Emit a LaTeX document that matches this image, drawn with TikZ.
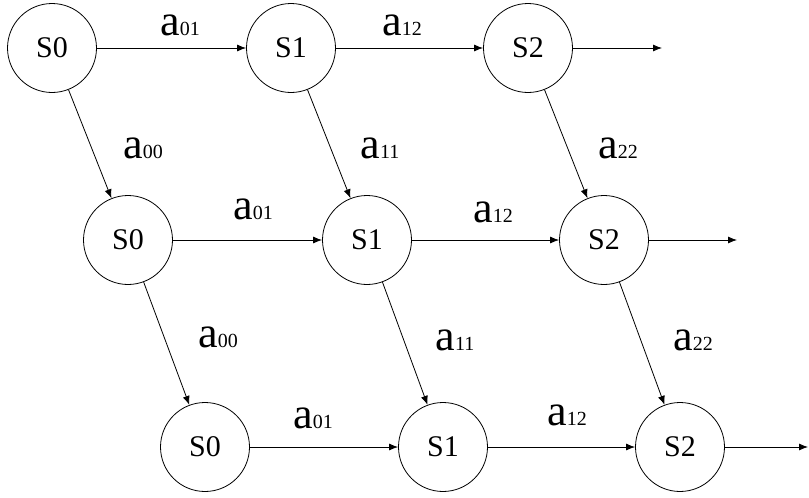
\documentclass[tikz,border=0pt]{standalone}
\usepackage{fontspec}
\setmainfont{Liberation Serif}
\usetikzlibrary{arrows.meta}
\newcommand{\trprob}[1]{{\fontsize{44}{44}\selectfont a}{\fontsize{20}{20}\selectfont #1}}
\tikzset{
  state/.style={draw, circle, line width=0.8pt, minimum size=89pt, inner sep=0pt, font=\fontsize{30}{30}\selectfont},
  arrow/.style={-{Latex[length=9pt,width=7pt]}, line width=0.8pt},
  prob/.style={inner sep=0pt},
}
\begin{document}
\begin{tikzpicture}[x=1pt,y=-1pt]
\useasboundingbox (0,0) rectangle (809,498);
% states, one row per time step
\node[state] (r1s0) at (52,48) {S0};
\node[state] (r1s1) at (291,48) {S1};
\node[state] (r1s2) at (528,48) {S2};
\node[state] (r2s0) at (128,240) {S0};
\node[state] (r2s1) at (367,240) {S1};
\node[state] (r2s2) at (604,240) {S2};
\node[state] (r3s0) at (205,447) {S0};
\node[state] (r3s1) at (443,447) {S1};
\node[state] (r3s2) at (680,447) {S2};
\coordinate (r1out) at (662,48);
\coordinate (r2out) at (737,240);
\coordinate (r3out) at (808,447);
% transitions
\draw[arrow] (r1s0) -- (r1s1); \draw[arrow] (r1s1) -- (r1s2); \draw[arrow] (r1s2) -- (r1out);
\draw[arrow] (r2s0) -- (r2s1); \draw[arrow] (r2s1) -- (r2s2); \draw[arrow] (r2s2) -- (r2out);
\draw[arrow] (r3s0) -- (r3s1); \draw[arrow] (r3s1) -- (r3s2); \draw[arrow] (r3s2) -- (r3out);
\draw[arrow] (r1s0) -- (r2s0); \draw[arrow] (r1s1) -- (r2s1); \draw[arrow] (r1s2) -- (r2s2);
\draw[arrow] (r2s0) -- (r3s0); \draw[arrow] (r2s1) -- (r3s1); \draw[arrow] (r2s2) -- (r3s2);
% probabilities
\node[prob] (p1a) at (180,25) {\trprob{01}};
\node[prob] (p1b) at (402,25) {\trprob{12}};
\node[prob] (p2a) at (253,209) {\trprob{01}};
\node[prob] (p2b) at (493,212) {\trprob{12}};
\node[prob] (p3a) at (313,418) {\trprob{01}};
\node[prob] (p3b) at (567,415) {\trprob{12}};
\node[prob] (d1a) at (143,148) {\trprob{00}};
\node[prob] (d1b) at (380,148) {\trprob{11}};
\node[prob] (d1c) at (618,148) {\trprob{22}};
\node[prob] (d2a) at (218,337) {\trprob{00}};
\node[prob] (d2b) at (455,340) {\trprob{11}};
\node[prob] (d2c) at (693,340) {\trprob{22}};
\end{tikzpicture}
\end{document}
